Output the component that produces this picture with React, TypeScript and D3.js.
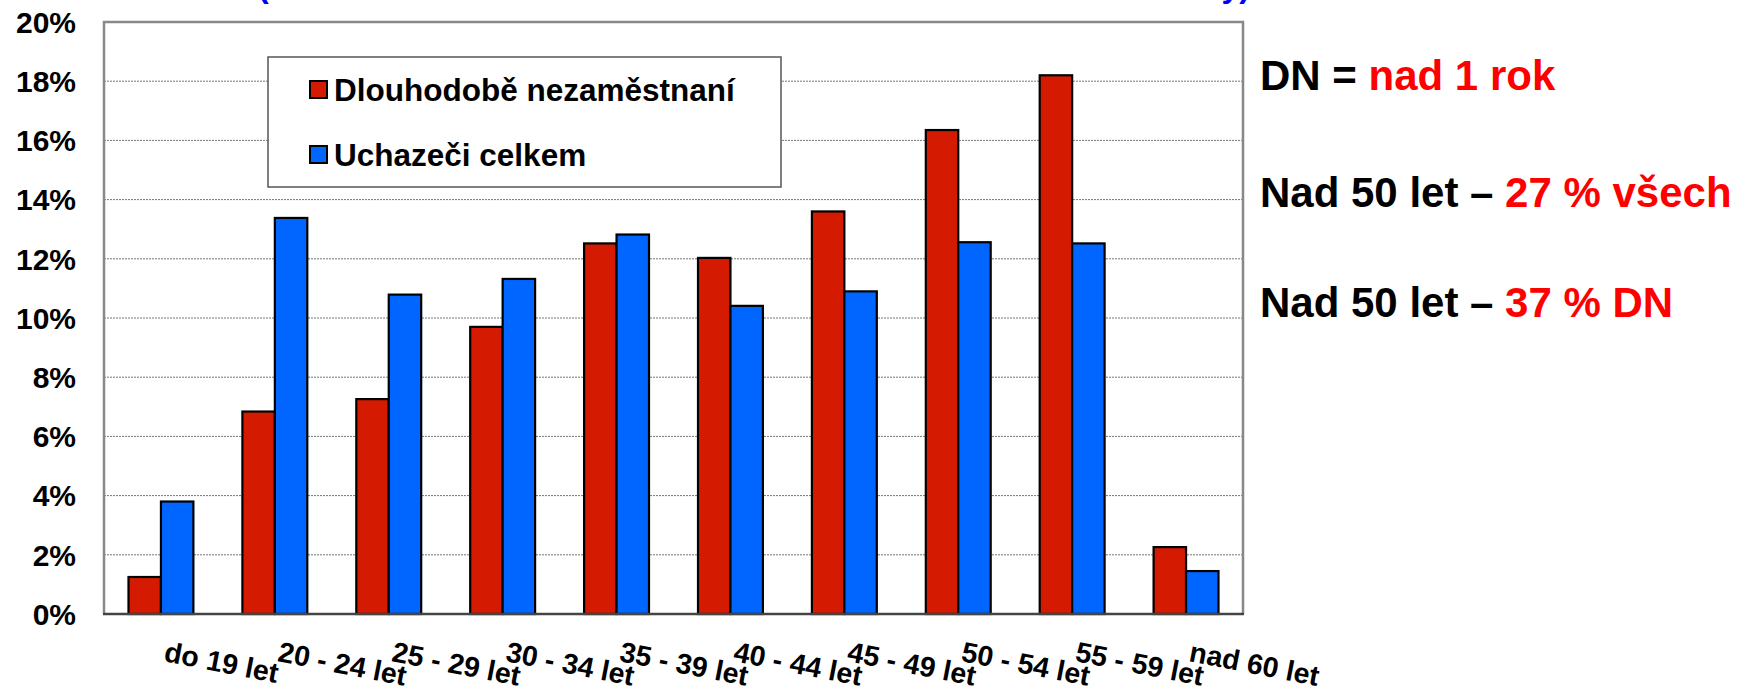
import React, { useEffect, useRef } from 'react';
import * as d3 from 'd3';

const categories = [
  'do 19 let',
  '20 - 24 let',
  '25 - 29 let',
  '30 - 34 let',
  '35 - 39 let',
  '40 - 44 let',
  '45 - 49 let',
  '50 - 54 let',
  '55 - 59 let',
  'nad 60 let',
];
const seriesNames = ['Dlouhodobě nezaměstnaní', 'Uchazeči celkem'];
const longTerm = [1.25, 6.84, 7.26, 9.7, 12.52, 12.03, 13.6, 16.35, 18.2, 2.26];
const allApplicants = [3.8, 13.38, 10.79, 11.32, 12.82, 10.41, 10.9, 12.56, 12.52, 1.45];
const yTicks = [0, 2, 4, 6, 8, 10, 12, 14, 16, 18, 20];

const W = 1740;
const H = 692;
const FONT = '"Liberation Sans", Arial, sans-serif';

const App: React.FC = () => {
  const ref = useRef<SVGSVGElement>(null);

  useEffect(() => {
    if (!ref.current) return;
    const svg = d3.select(ref.current);
    svg.selectAll('*').remove();

    const plot = { left: 104, right: 1243, top: 22, bottom: 614 };
    const colors = ['#D41A00', '#0066FF'];

    const x0 = d3.scaleBand<string>().domain(categories).range([plot.left, plot.right]).padding(0);
    const x1 = d3
      .scaleBand<string>()
      .domain(seriesNames)
      .range([0, x0.bandwidth()])
      .paddingInner(0)
      .paddingOuter(0.755);
    const y = d3.scaleLinear().domain([0, 20]).range([plot.bottom, plot.top]);

    // title is cut off by the top edge, only descenders show
    svg.append('text').attr('x', 258).attr('y', -3).attr('fill', '#0000FF')
      .attr('font-family', FONT).attr('font-weight', 'bold').attr('font-size', 32).text('(');
    svg.append('text').attr('x', 1250).attr('y', -3).attr('text-anchor', 'end').attr('fill', '#0000FF')
      .attr('font-family', FONT).attr('font-weight', 'bold').attr('font-size', 32).text('y)');

    // gridlines
    svg.append('g')
      .selectAll('line')
      .data(yTicks.filter((t) => t > 0 && t < 20))
      .enter()
      .append('line')
      .attr('x1', plot.left)
      .attr('x2', plot.right)
      .attr('y1', (d) => y(d))
      .attr('y2', (d) => y(d))
      .attr('stroke', '#777')
      .attr('stroke-width', 1)
      .attr('stroke-dasharray', '2,1');

    // frame
    svg.append('path')
      .attr('d', `M${plot.left},${plot.bottom}V${plot.top}H${plot.right}V${plot.bottom}`)
      .attr('fill', 'none')
      .attr('stroke', '#888')
      .attr('stroke-width', 2.5);

    // bars
    const data = categories.map((c, i) => ({ c, vals: [longTerm[i], allApplicants[i]] }));
    svg.append('g')
      .selectAll('g')
      .data(data)
      .enter()
      .append('g')
      .attr('transform', (d) => `translate(${x0(d.c)},0)`)
      .selectAll('rect')
      .data((d) => d.vals.map((v, k) => ({ key: seriesNames[k], v, k })))
      .enter()
      .append('rect')
      .attr('x', (d) => x1(d.key) || 0)
      .attr('y', (d) => y(d.v))
      .attr('width', x1.bandwidth())
      .attr('height', (d) => plot.bottom - y(d.v))
      .attr('fill', (d) => colors[d.k])
      .attr('stroke', '#000')
      .attr('stroke-width', 2.2);

    // baseline
    svg.append('line')
      .attr('x1', plot.left - 1).attr('x2', plot.right + 1)
      .attr('y1', plot.bottom).attr('y2', plot.bottom)
      .attr('stroke', '#444').attr('stroke-width', 2.5);

    // y tick labels
    svg.append('g')
      .selectAll('text')
      .data(yTicks)
      .enter()
      .append('text')
      .attr('x', 76)
      .attr('y', (d) => y(d))
      .attr('dy', '0.36em')
      .attr('text-anchor', 'end')
      .attr('font-family', FONT)
      .attr('font-weight', 'bold')
      .attr('font-size', 30)
      .text((d) => `${d}%`);

    // x labels
    svg.append('g')
      .selectAll('text')
      .data(categories)
      .enter()
      .append('text')
      .attr('transform', (d) => `translate(${(x0(d) || 0) + x0.bandwidth() / 2 + 2},661) rotate(11)`)
      .attr('font-family', FONT)
      .attr('font-weight', 'bold')
      .attr('font-size', 28.5)
      .text((d) => d);

    // legend
    const lg = svg.append('g');
    lg.append('rect')
      .attr('x', 268).attr('y', 57).attr('width', 513).attr('height', 130)
      .attr('fill', '#fff').attr('stroke', '#555').attr('stroke-width', 1.5);
    const rows = lg.selectAll('g.row')
      .data(seriesNames)
      .enter()
      .append('g')
      .attr('transform', (d, i) => `translate(310,${90 + i * 65})`);
    rows.append('rect')
      .attr('x', 0).attr('y', -9).attr('width', 17).attr('height', 17)
      .attr('fill', (d, i) => colors[i]).attr('stroke', '#000').attr('stroke-width', 2);
    rows.append('text')
      .attr('x', 24)
      .attr('dy', '0.36em')
      .attr('font-family', FONT)
      .attr('font-weight', 'bold')
      .attr('font-size', 31.5)
      .text((d) => d);

    // side notes
    const notes = [
      { y: 90, black: 'DN = ', red: 'nad 1 rok' },
      { y: 207, black: 'Nad 50 let – ', red: '27 % všech' },
      { y: 317, black: 'Nad 50 let – ', red: '37 % DN' },
    ];
    notes.forEach((n) => {
      const t = svg.append('text')
        .attr('x', 1260).attr('y', n.y)
        .attr('font-family', FONT).attr('font-weight', 'bold').attr('font-size', 42);
      t.append('tspan').attr('fill', '#000').text(n.black);
      t.append('tspan').attr('fill', '#FF0000').text(n.red);
    });

    return () => {
      svg.selectAll('*').remove();
    };
  }, []);

  return (
    <svg
      ref={ref}
      width={W}
      height={H}
      style={{ position: 'absolute', left: 0, top: 0, background: '#fff' }}
    ></svg>
  );
};

export default App;
